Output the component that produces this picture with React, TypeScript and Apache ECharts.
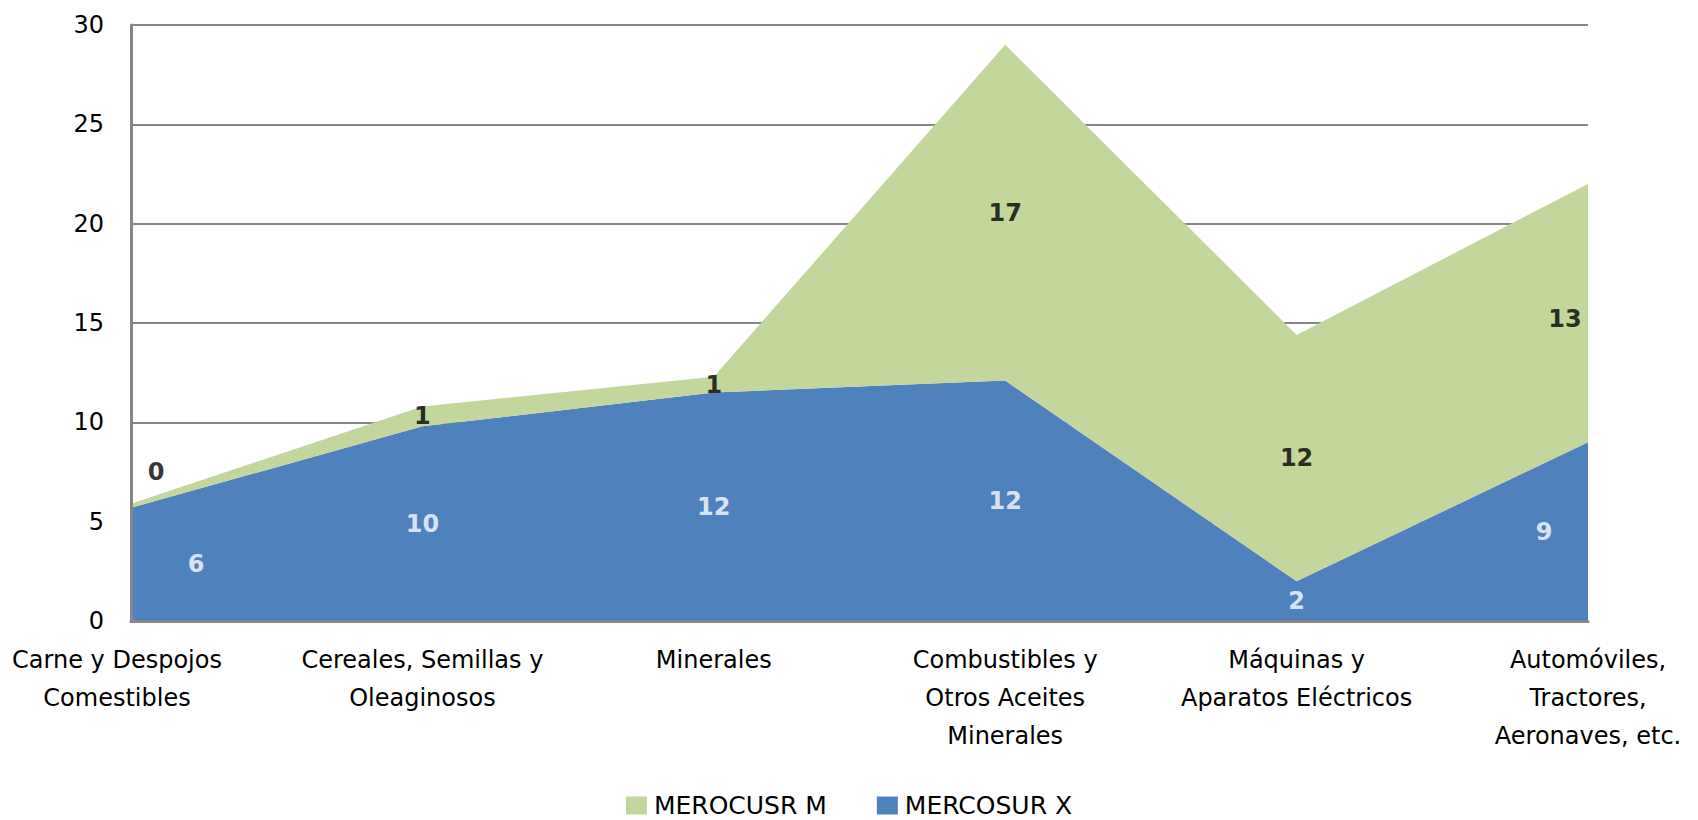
import React, { useEffect, useRef } from "react";
import * as echarts from "echarts";

const categories = [
  "Carne y Despojos\nComestibles",
  "Cereales, Semillas y\nOleaginosos",
  "Minerales",
  "Combustibles y\nOtros Aceites\nMinerales",
  "Máquinas y\nAparatos Eléctricos",
  "Automóviles,\nTractores,\nAeronaves, etc.",
];
const seriesNames = ["MEROCUSR M", "MERCOSUR X"];
const mercosurX = [5.7, 9.8, 11.5, 12.1, 2.0, 9.0];
const mercosurM = [0.2, 1.0, 0.8, 16.9, 12.4, 13.0];
const yTicks = { min: 0, max: 30, interval: 5 };

// label nudges (pixels) for edge points, styling only
const xLabelOffsets: [number, number][] = [[65, 0], [0, 0], [0, 0], [0, 0], [0, 0], [-44, 0]];
const mLabelOffsets: [number, number][] = [[25, -34], [0, 0], [0, 0], [0, 0], [0, 0], [-23, 6]];

const BLUE = "#4F81BD";
const GREEN = "#C3D69B";
const GRAY = "#868686";
const FONT = "'DejaVu Sans', sans-serif";

export default function App() {
  const ref = useRef<HTMLDivElement>(null);
  useEffect(() => {
    if (!ref.current) return;
    const chart = echarts.init(ref.current, null, { renderer: "svg" });
    chart.setOption({
      animation: false,
      backgroundColor: "#ffffff",
      textStyle: { fontFamily: FONT },
      grid: { left: 131, right: 110, top: 25, bottom: 199, containLabel: false },
      legend: {
        data: [seriesNames[0], seriesNames[1]],
        top: 793,
        left: "center",
        padding: 0,
        itemWidth: 21,
        itemHeight: 18,
        itemGap: 50,
        icon: "rect",
        textStyle: {
          fontSize: 25,
          lineHeight: 20,
          color: "#000",
          fontFamily: FONT,
          padding: [0, 0, 0, 2],
        },
      },
      xAxis: {
        type: "category",
        data: categories,
        boundaryGap: false,
        axisLine: { show: true, lineStyle: { color: GRAY, width: 3 } },
        axisTick: { show: false },
        axisLabel: {
          interval: 0,
          color: "#000",
          fontSize: 24,
          lineHeight: 38,
          margin: 20,
          fontFamily: FONT,
          formatter: (v: string, i: number) =>
            i === 0
              ? v.split("\n").map((s) => `{first|${s}}`).join("\n")
              : v,
          rich: {
            first: {
              fontSize: 24,
              lineHeight: 38,
              fontFamily: FONT,
              color: "#000",
              padding: [0, 28, 0, 0],
            },
          },
        },
        splitLine: { show: false },
        z: 10,
      },
      yAxis: [
        {
          type: "value",
          min: yTicks.min,
          max: yTicks.max,
          interval: yTicks.interval,
          axisLine: { show: false },
          axisTick: { show: false },
          axisLabel: { color: "#000", fontSize: 24, margin: 27, fontFamily: FONT },
          splitLine: { show: true, lineStyle: { color: GRAY, width: 2 } },
          z: 0,
        },
        {
          type: "value",
          position: "left",
          min: yTicks.min,
          max: yTicks.max,
          interval: yTicks.interval,
          axisLine: { show: true, onZero: false, lineStyle: { color: GRAY, width: 3 } },
          axisTick: { show: false },
          axisLabel: { show: false },
          splitLine: { show: false },
          z: 10,
        },
      ],
      series: [
        {
          name: seriesNames[1],
          type: "line",
          stack: "total",
          data: mercosurX,
          showSymbol: false,
          symbol: "none",
          lineStyle: { width: 0 },
          areaStyle: { color: BLUE, opacity: 1 },
          itemStyle: { color: BLUE },
          z: 2,
        },
        {
          name: seriesNames[0],
          type: "line",
          stack: "total",
          data: mercosurM,
          showSymbol: false,
          symbol: "none",
          lineStyle: { width: 0 },
          areaStyle: { color: GREEN, opacity: 1 },
          itemStyle: { color: GREEN },
          z: 2,
        },
        {
          name: "labelsX",
          type: "scatter",
          symbolSize: 0,
          silent: true,
          z: 20,
          data: mercosurX.map((v, i) => ({
            value: v / 2,
            label: { offset: xLabelOffsets[i] },
          })),
          label: {
            show: true,
            position: "inside",
            color: "#fff",
            fontWeight: "bold",
            fontSize: 24,
            fontFamily: FONT,
            formatter: (p: any) => String(Math.round(mercosurX[p.dataIndex])),
          },
        },
        {
          name: "labelsM",
          type: "scatter",
          symbolSize: 0,
          silent: true,
          z: 20,
          data: mercosurM.map((v, i) => ({
            value: mercosurX[i] + v / 2,
            label: { offset: mLabelOffsets[i] },
          })),
          label: {
            show: true,
            position: "inside",
            color: "#000",
            fontWeight: "bold",
            fontSize: 24,
            fontFamily: FONT,
            formatter: (p: any) => String(Math.round(mercosurM[p.dataIndex])),
          },
        },
      ],
    });
    return () => chart.dispose();
  }, []);
  return (
    <div
      ref={ref}
      style={{ position: "fixed", left: 0, top: 0, width: 1698, height: 820, background: "#fff" }}
    />
  );
}
